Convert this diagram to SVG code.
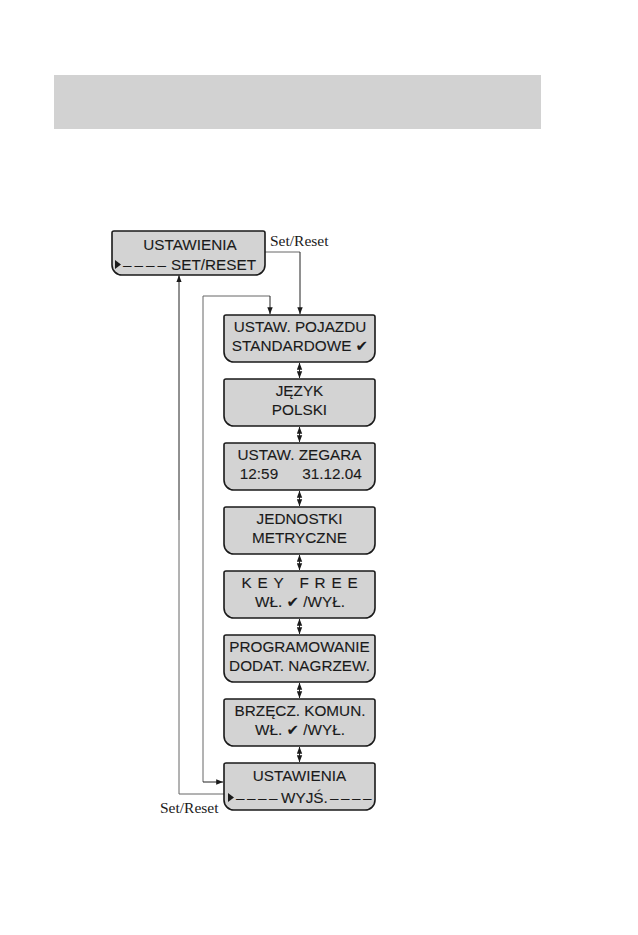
<svg xmlns="http://www.w3.org/2000/svg" width="638" height="935" viewBox="0 0 638 935">
<style>
.box{fill:#d3d3d3;stroke:#1a1a1a;stroke-width:1.6}
.t{font-family:"Liberation Sans",Arial,sans-serif;font-size:15.3px;fill:#1a1a1a;stroke:#1a1a1a;stroke-width:0.1;text-anchor:middle}
.s{text-anchor:start}
.ck{font-family:"DejaVu Sans",sans-serif;font-size:15px}
.d{letter-spacing:3px}
.lbl{font-family:"Liberation Serif","Times New Roman",serif;font-size:15.5px;fill:#1a1a1a}
.ln{fill:none;stroke:#222;stroke-width:1}
.lg{fill:none;stroke:#666;stroke-width:1}
.tri{fill:#1a1a1a}
</style>
<defs>
<path id="bx" d="M2,0 H149 Q151,0 151,2 V37 A10,10 0 0 1 141,47 H10 A10,10 0 0 1 0,37 V2 Q0,0 2,0 Z"/>
<path id="bx1" d="M2,0 H151 Q153,0 153,2 V34 A10,10 0 0 1 143,44 H10 A10,10 0 0 1 0,34 V2 Q0,0 2,0 Z"/>
<marker id="ah" viewBox="0 0 7 6" refX="6.8" refY="3" markerWidth="7" markerHeight="6" markerUnits="userSpaceOnUse" orient="auto-start-reverse">
<path d="M0,0.3 L7,3 L0,5.7 Z" fill="#1a1a1a"/>
</marker>
</defs>
<rect x="54" y="75" width="487" height="54" fill="#d2d2d2"/>

<g id="connectors">
<polyline class="lg" points="265,252 300,252"/>
<polyline class="ln" points="300,252 300,314" marker-end="url(#ah)"/>
<polyline class="lg" points="224,794 179,794 179,520"/>
<polyline class="ln" points="179,520 179,275.5" marker-end="url(#ah)"/>
<polyline class="lg" points="203,520 203,296 270,296"/>
<polyline class="ln" points="270,296 270,314" marker-end="url(#ah)"/>
<polyline class="lg" points="203,520 203,782"/>
<polyline class="ln" points="203,782 223,782" marker-end="url(#ah)"/>
<line class="ln" x1="299.5" y1="363" x2="299.5" y2="378" marker-start="url(#ah)" marker-end="url(#ah)"/>
<line class="ln" x1="299.5" y1="427" x2="299.5" y2="442" marker-start="url(#ah)" marker-end="url(#ah)"/>
<line class="ln" x1="299.5" y1="491" x2="299.5" y2="506" marker-start="url(#ah)" marker-end="url(#ah)"/>
<line class="ln" x1="299.5" y1="555" x2="299.5" y2="570" marker-start="url(#ah)" marker-end="url(#ah)"/>
<line class="ln" x1="299.5" y1="619" x2="299.5" y2="634" marker-start="url(#ah)" marker-end="url(#ah)"/>
<line class="ln" x1="299.5" y1="683" x2="299.5" y2="698" marker-start="url(#ah)" marker-end="url(#ah)"/>
<line class="ln" x1="299.5" y1="747" x2="299.5" y2="762" marker-start="url(#ah)" marker-end="url(#ah)"/>
<text class="lbl" x="270" y="246">Set/Reset</text>
<text class="lbl" x="160" y="813">Set/Reset</text>
</g>

<g id="n1" transform="translate(112,231)">
<use href="#bx1" class="box"/>
<text class="t" x="78" y="19">USTAWIENIA</text>
<polygon class="tri" points="3,29 9,33.5 3,38"/>
<text class="t s d" x="11" y="38.5">––––</text>
<text class="t s" x="59" y="38.5">SET/RESET</text>
</g>

<g id="n2" transform="translate(224,315)">
<use href="#bx" class="box"/>
<text class="t" x="76" y="16.5">USTAW. POJAZDU</text>
<text class="t" x="76" y="35.5">STANDARDOWE <tspan class="ck">✔</tspan></text>
</g>

<g id="n3" transform="translate(224,379)">
<use href="#bx" class="box"/>
<text class="t" x="75.5" y="16.5">JĘZYK</text>
<text class="t" x="75.5" y="35.5">POLSKI</text>
</g>

<g id="n4" transform="translate(224,443)">
<use href="#bx" class="box"/>
<text class="t" x="75.5" y="16.5">USTAW. ZEGARA</text>
<text class="t" x="35" y="35.5">12:59</text>
<text class="t" x="108" y="35.5">31.12.04</text>
</g>

<g id="n5" transform="translate(224,507)">
<use href="#bx" class="box"/>
<text class="t" x="75.5" y="16.5">JEDNOSTKI</text>
<text class="t" x="75.5" y="35.5">METRYCZNE</text>
</g>

<g id="n6" transform="translate(224,571)">
<use href="#bx" class="box"/>
<text class="t" x="78.5" y="16.5" style="letter-spacing:5.8px">KEY FREE</text>
<text class="t" x="76" y="35.5">WŁ. <tspan class="ck">✔</tspan> /WYŁ.</text>
</g>

<g id="n7" transform="translate(224,635)">
<use href="#bx" class="box"/>
<text class="t" x="75.5" y="16.5">PROGRAMOWANIE</text>
<text class="t" x="75.5" y="35.5">DODAT. NAGRZEW.</text>
</g>

<g id="n8" transform="translate(224,699)">
<use href="#bx" class="box"/>
<text class="t" x="76" y="16.5">BRZĘCZ. KOMUN.</text>
<text class="t" x="76" y="35.5">WŁ. <tspan class="ck">✔</tspan> /WYŁ.</text>
</g>

<g id="n9" transform="translate(224,763)">
<use href="#bx" class="box"/>
<text class="t" x="75.5" y="18">USTAWIENIA</text>
<polygon class="tri" points="4,30 10,34.5 4,39"/>
<text class="t s" x="12" y="39.5" style="letter-spacing:2.5px">––––</text>
<text class="t s" x="57" y="39.5">WYJŚ.</text>
<text class="t s" x="106" y="39.5" style="letter-spacing:2.5px">––––</text>
</g>
</svg>
